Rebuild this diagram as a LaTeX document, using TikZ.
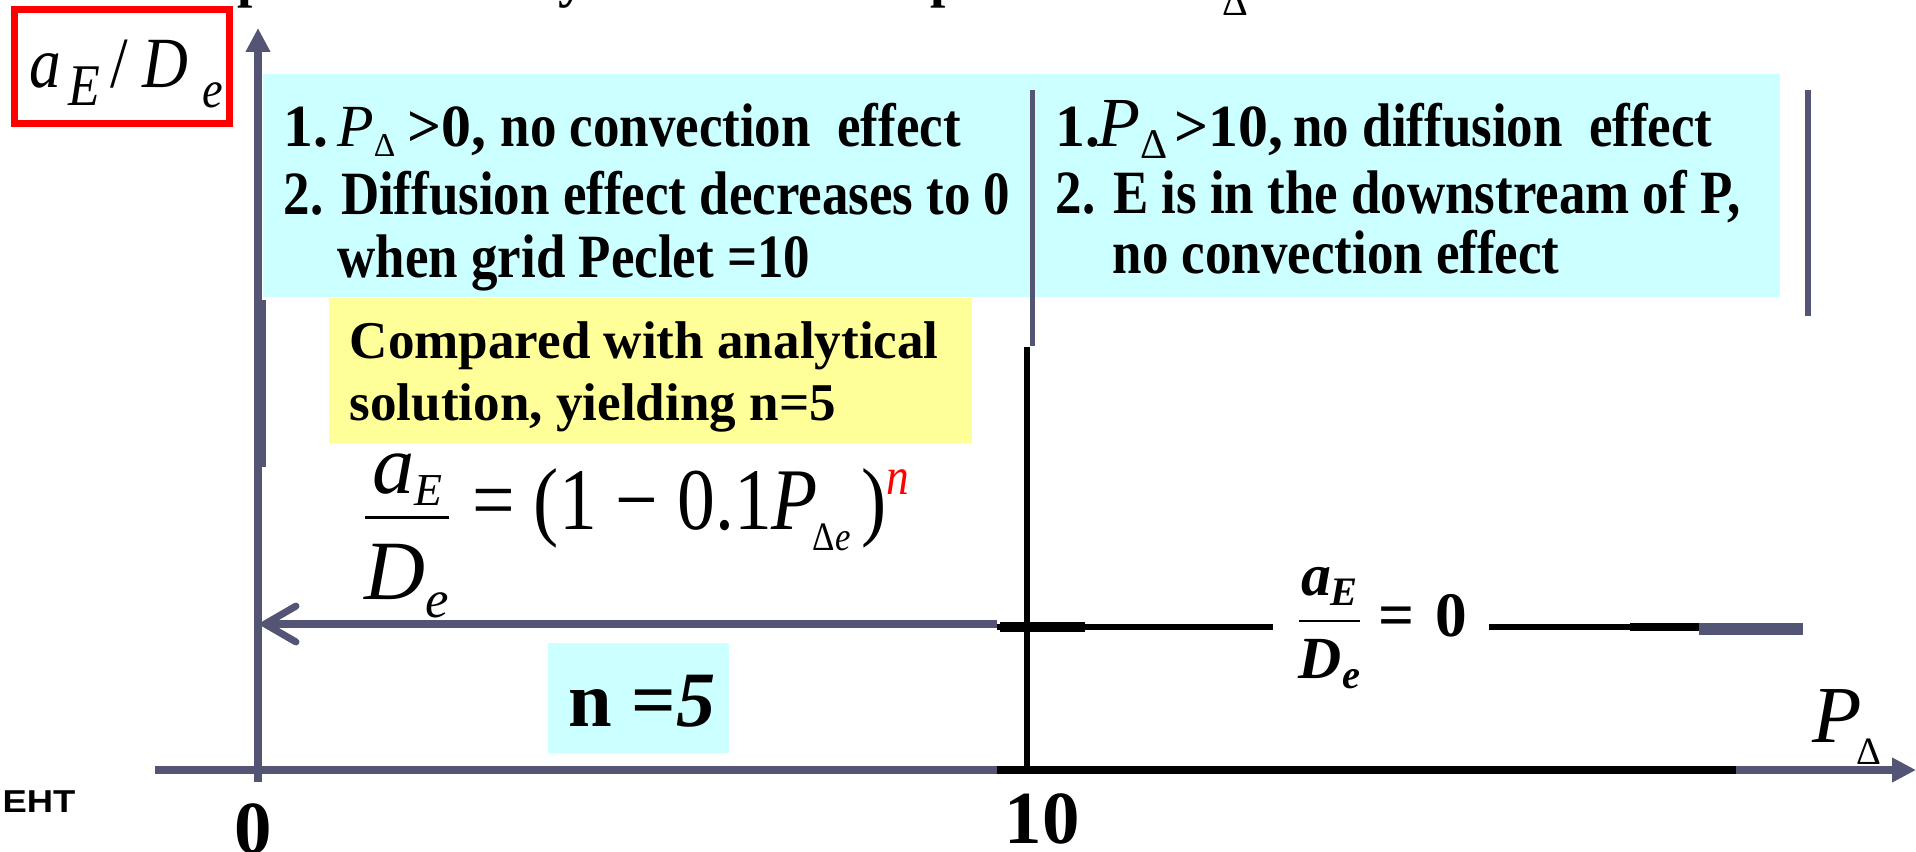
\documentclass[tikz,border=0pt]{standalone}
\usepackage{fontspec}
\usepackage{amsmath}
\usetikzlibrary{arrows.meta}
\setmainfont{Liberation Serif}
\newfontfamily\cyanfont[FakeStretch=0.86]{Liberation Serif}
\newfontfamily\formfont[FakeStretch=0.86]{Liberation Serif}
\newfontfamily\labfont[FakeStretch=0.88]{Liberation Serif}
\newfontfamily\ehtfont[FakeStretch=1.15]{Liberation Sans}
\definecolor{axiscol}{RGB}{84,84,117}
\definecolor{cyanbg}{RGB}{204,255,255}
\definecolor{yellowbg}{RGB}{255,255,153}
\newcommand{\fs}[1]{\fontsize{#1}{#1}\selectfont}
\newcommand{\lowsub}[3]{\raisebox{-#1}{\fs{#2}#3}}
\newcommand{\pre}{\normalfont\bfseries\fs{17}}
\tikzset{
  txt/.style={anchor=base west, inner sep=0pt},
  cyantxt/.style={txt, font=\cyanfont\bfseries\fs{17.5}},
  yeltxt/.style={txt, font=\bfseries\fs{15.1}},
  axisline/.style={draw=axiscol, line width=2.28pt},
  scanline/.style={draw=black, line width=1.5pt},
  frag/.style={anchor=base west, inner sep=0pt, font=\bfseries\fs{15.6}}
}
\begin{document}
\begin{tikzpicture}[x=0.01cm, y=-0.01cm]
\useasboundingbox (0,0) rectangle (1916,851);
\clip (0,0) rectangle (1916,851);
\fill[white] (0,0) rectangle (1916,851);

% cut-off title fragments
\node (frag1) [frag] at (237,-4) {p};
\node (frag2) [frag] at (558,-4) {y};
\node (frag3) [frag] at (930,-4) {p};
\node (frag4) [anchor=base west, inner sep=0pt, font=\fs{11.4}] at (1222,15) {Δ};

% red label box
\node (ylabelbox) [draw=red, line width=2pt, minimum width=2.15cm, minimum height=1.14cm, inner sep=0pt] at (122,66.5) {};
\node (ylabel) [txt, font=\labfont\fs{20.5}] at (29,87)
  {\textit{a}\kern2pt\lowsub{5.4pt}{16.8}{\textit{E}}\kern3pt/\kern4pt\textit{D}\kern4pt\lowsub{5.7pt}{15}{\textit{e}}};

% coloured backgrounds
\fill[cyanbg] (263,74) rectangle (1780,297);
\fill[yellowbg] (329,298) rectangle (972,443);
\fill[cyanbg] (548,643) rectangle (729,753);

% axes
\coordinate (xstart) at (155,770);
\coordinate (xend) at (1916,770);
\coordinate (ybot) at (258,782);
\coordinate (ytop) at (258,28);
\draw[axisline, -{Triangle[length=6.8pt, width=6.6pt]}] (xstart) -- (xend);
\draw[axisline, -{Triangle[length=6.8pt, width=6.6pt]}] (ybot) -- (ytop);
\coordinate (ys1) at (264,300);
\coordinate (ys2) at (264,467);
\draw[draw=axiscol, line width=1.2pt] (ys1) -- (ys2);

% horizontal arrow to y axis
\coordinate (harrS) at (998,624);
\coordinate (harrE) at (258,624);
\draw[draw=axiscol, line width=2pt, line cap=round, -{Straight Barb[length=8.8pt, width=10.2pt, line cap=round]}] (harrS) -- (harrE);

% divider lines
\coordinate (div1) at (1032,90);
\coordinate (div2) at (1032,350);
\draw[draw=axiscol, line width=1.42pt] (div1) -- (div2);
\coordinate (rl1) at (1808,90);
\coordinate (rl2) at (1808,316);
\draw[draw=axiscol, line width=1.7pt] (rl1) -- (rl2);

% scanned figure
\fill[white] (997,346) rectangle (1736,782);
\coordinate (sv1) at (1027,347);
\coordinate (sv2) at (1027,772);
\draw[scanline, line width=1.9pt] (sv1) -- (sv2);
\coordinate (sx1) at (997,770);
\coordinate (sx2) at (1736,770);
\draw[scanline, line width=2.5pt] (sx1) -- (sx2);
\coordinate (sl1) at (997,627);
\coordinate (sl2) at (1273,627);
\draw[scanline] (sl1) -- (sl2);
\coordinate (sb1) at (1000,627);
\coordinate (sb2) at (1085,627);
\draw[scanline, line width=3pt] (sb1) -- (sb2);
\coordinate (sr1) at (1489,627);
\coordinate (sr2) at (1705,627);
\draw[scanline] (sr1) -- (sr2);
\coordinate (sr3) at (1630,627);
\draw[scanline, line width=2.4pt] (sr3) -- (sr2);
\node (scaneq) [anchor=west, inner sep=0pt, font=\bfseries\fs{17}] at (1294,628)
  {$\dfrac{\mbox{\textit{a}\lowsub{3pt}{11.5}{\textit{E}}}}{\mbox{\textit{D}\lowsub{3pt}{11.5}{\textit{e}}}}$\kern4pt{\fs{18}=\kern6pt0}};
\coordinate (seg1) at (1699,629);
\coordinate (seg2) at (1803,629);
\draw[draw=axiscol, line width=3.4pt] (seg1) -- (seg2);

% cyan panel texts
\node (l1) [cyantxt] at (283,146) {{\pre 1.\kern2.5pt{\mdseries\itshape P}\lowsub{3.1pt}{9.5}{\mdseries Δ}\kern3.5pt>0,}\kern4pt no convection\ \ effect};
\node (l2) [cyantxt] at (283,214) {2. Diffusion effect decreases to 0};
\node (l3) [cyantxt] at (337,277) {when grid Peclet =10};
\node (r1) [cyantxt] at (1055,146) {{\pre 1.\kern-1pt{\mdseries\itshape\fs{20}P}\lowsub{3.5pt}{12}{\mdseries Δ}\kern2pt>10,}\kern3pt no diffusion\ \ effect};
\node (r2) [cyantxt] at (1055,213) {2. E is in the downstream of P,};
\node (r3) [cyantxt] at (1112,273) {no convection effect};

% yellow box texts
\node (y1) [yeltxt] at (349,358) {Compared with analytical};
\node (y2) [yeltxt] at (349,420) {solution, yielding n=5};

% formula
\node (formula) [txt, font=\fs{24}] at (360,529)
  {\raisebox{-3pt}{$\dfrac{\raisebox{-4pt}[0pt][0pt]{\textit{a}\lowsub{3.5pt}{13}{\textit{E}}}}{\mbox{\textit{D}\lowsub{5pt}{15}{\textit{e}}}}$}\formfont\fs{25} = (1 − 0.1\textit{P}\kern-1.5pt\lowsub{6pt}{11.5}{Δ\textit{e}}\kern3pt)\raisebox{9.7pt}{\fs{15}\color{red}\textit{n}}};

% n = 5
\node (nval) [txt, font=\bfseries\fs{22.3}] at (568,726) {n =\textit{5}};

% axis labels
\node (zero) [anchor=base, inner sep=0pt, font=\bfseries\fs{21.3}] at (253,853) {0};
\node (ten) [anchor=base, inner sep=0pt, font=\bfseries\fs{21.3}] at (1042,843) {10};
\node (plabel) [txt, font=\fs{23}] at (1812,742) {\textit{P}\kern-1.5pt\lowsub{6.5pt}{11}{Δ}};

% cut-off left text
\node (eht) [anchor=base east, inner sep=0pt, font=\ehtfont\bfseries\fs{9}] at (76,812) {EHT};
\end{tikzpicture}
\end{document}
